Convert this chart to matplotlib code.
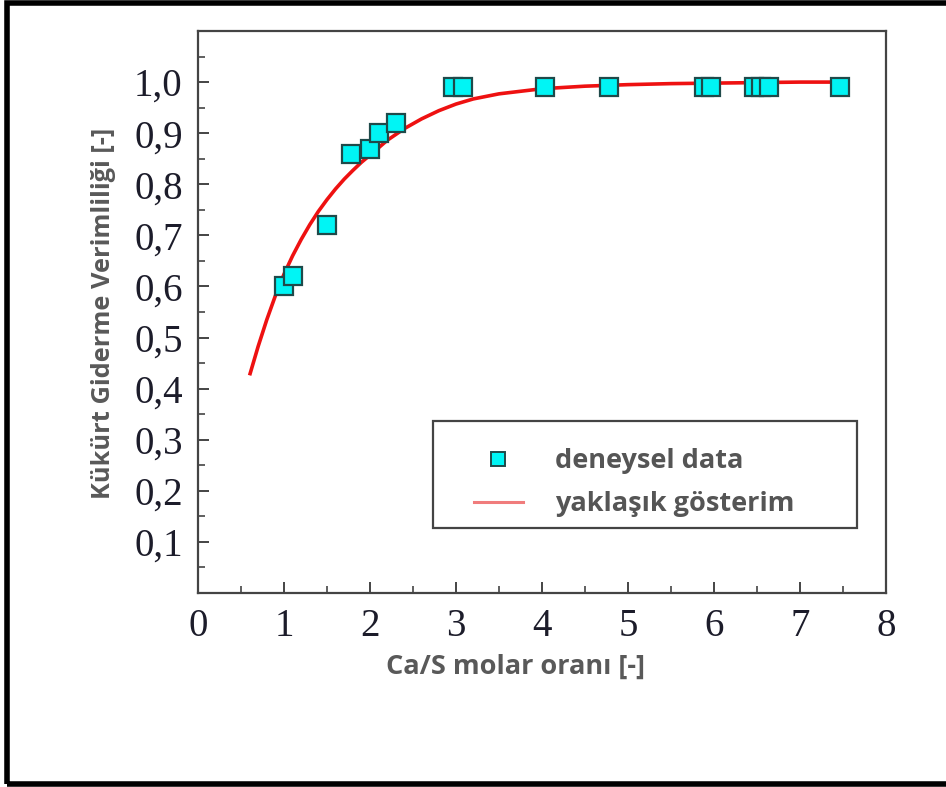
import matplotlib
matplotlib.use("Agg")
import matplotlib.pyplot as plt
from matplotlib.lines import Line2D
from matplotlib.patches import Rectangle
from matplotlib.ticker import MultipleLocator, FuncFormatter

# data
ca_s = [1.0, 1.1, 1.5, 1.78, 2.0, 2.1, 2.3, 2.96, 3.08, 4.03, 4.78, 5.88, 5.97, 6.46, 6.55, 6.64, 7.47]
efficiency = [0.60, 0.62, 0.72, 0.86, 0.87, 0.90, 0.92, 0.99, 0.99, 0.99, 0.99, 0.99, 0.99, 0.99, 0.99, 0.99, 0.99]

fit_x = [0.60, 0.70, 0.80, 0.90, 1.00, 1.10, 1.20, 1.30, 1.40, 1.50, 1.60, 1.70, 1.80, 1.90,
         2.00, 2.20, 2.40, 2.60, 2.80, 3.00, 3.20, 3.50, 4.00, 4.50, 5.00, 5.50, 6.00, 6.50, 7.00, 7.45]
fit_y = [0.426, 0.483, 0.535, 0.582, 0.624, 0.660, 0.692, 0.721, 0.747, 0.770, 0.791, 0.810, 0.827, 0.843,
         0.857, 0.886, 0.909, 0.928, 0.944, 0.957, 0.967, 0.977, 0.987, 0.992, 0.995, 0.997, 0.998, 0.999, 1.000, 1.000]

xticks = [0, 1, 2, 3, 4, 5, 6, 7, 8]
yticks = [0.1, 0.2, 0.3, 0.4, 0.5, 0.6, 0.7, 0.8, 0.9, 1.0]

W, H = 946, 787
fig = plt.figure(figsize=(W / 100, H / 100), dpi=100)
fig.patch.set_facecolor("white")

ax = fig.add_axes([198 / W, 1 - 593 / H, (886 - 198) / W, (593 - 31) / H])

ax.plot(fit_x, fit_y, color="#ee1111", lw=2.6, zorder=3, solid_capstyle="butt",
        solid_joinstyle="round")
ax.plot(ca_s, efficiency, linestyle="none", marker="s", ms=13, mfc="#00f5f5",
        mec="#1f4a4a", mew=1.6, zorder=4)

ax.set_xlim(0, 8)
ax.set_ylim(0, 1.1)
ax.set_xticks(xticks)
ax.set_yticks(yticks)
ax.xaxis.set_minor_locator(MultipleLocator(0.5))
ax.yaxis.set_minor_locator(MultipleLocator(0.05))
ax.yaxis.set_major_formatter(FuncFormatter(lambda v, p: f"{v:.1f}".replace(".", ",")))
ax.xaxis.set_major_formatter(FuncFormatter(lambda v, p: f"{v:.0f}"))

for s in ax.spines.values():
    s.set_color("#444444")
    s.set_linewidth(1.6)

ax.tick_params(which="both", direction="in", top=False, right=False, color="#444444")
ax.tick_params(which="major", length=8, width=1.4, pad=11)
ax.tick_params(which="minor", length=5, width=1.2)
for lab in ax.get_xticklabels() + ax.get_yticklabels():
    lab.set_fontfamily("Liberation Serif")
    lab.set_fontsize(28)
    lab.set_color("#1c1c2a")

label_font = dict(family="Open Sans", weight="bold", color="#595959")
fig.text(515 / W, 1 - 667 / H, "Ca/S molar oranı [-]", ha="center", va="center",
         fontsize=19.5, **label_font)
fig.text(103 / W, 1 - 313 / H, "Kükürt Giderme Verimliliği [-]", ha="center", va="center",
         rotation=90, fontsize=18.3, **label_font)

# legend frame
fig.patches.append(Rectangle((433 / W, 1 - 528 / H), (857 - 433) / W, (528 - 421) / H,
                             transform=fig.transFigure, fill=False, edgecolor="#444444",
                             lw=1.6, zorder=5))
handles = [
    Line2D([], [], linestyle="none", marker="s", ms=10, mfc="#00f5f5", mec="#1f4a4a", mew=1.4),
    Line2D([], [], color="#f07c7c", lw=2.2),
]
leg = fig.legend(handles, ["deneysel data", "yaklaşık gösterim"], loc="upper left",
                 bbox_to_anchor=(450 / W, 1 - 424 / H), frameon=False,
                 handlelength=1.78, handletextpad=1.2, labelspacing=0.62,
                 prop=dict(family="Open Sans", weight="bold", size=19.5))
for t in leg.get_texts():
    t.set_color("#555555")

# outer black border
fig.patches.append(Rectangle((7 / W, 1 - 784 / H), 1.05, (784 - 3) / H,
                             transform=fig.transFigure, fill=False, edgecolor="black",
                             lw=4, zorder=10, clip_on=False))

fig.savefig("out.png", dpi=100)
